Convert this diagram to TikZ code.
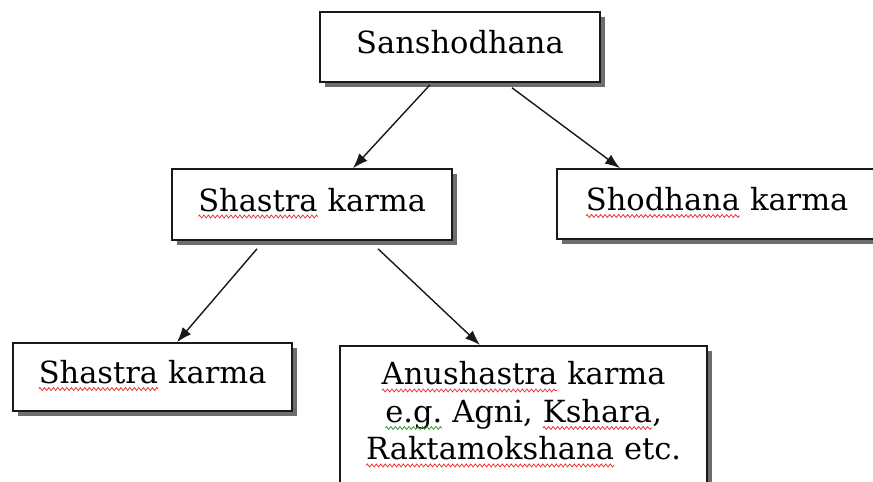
\documentclass[tikz,border=0pt]{standalone}
\usepackage{fontspec}
\setmainfont{DejaVu Serif}
\usetikzlibrary{arrows.meta,positioning,calc,shadows,decorations.pathmorphing}
\definecolor{edge}{RGB}{25,25,25}
\definecolor{shade}{RGB}{110,110,110}
\definecolor{spellred}{RGB}{235,40,40}
\definecolor{spellgreen}{RGB}{40,150,40}
\tikzset{chart/.style={draw=edge,line width=1.6pt,fill=white,drop shadow={shadow xshift=5pt,shadow yshift=-5pt,fill=shade,opacity=1},font=\fontsize{30.5}{37.5}\selectfont,inner sep=0pt},single/.style={chart,text height=21pt,text depth=8pt,minimum height=70pt},flow/.style={-{Latex[length=15pt,width=11pt]},line width=1.4pt,draw=edge},wave/.style={line width=0.7pt,decorate,decoration={zigzag,amplitude=1.5pt,segment length=4.5pt}}}
% wavy spell-check underline under one word
\newcommand{\spell}[2][spellred]{\tikz[baseline=(w.base),x=1pt,y=1pt]{\node[inner sep=0pt,outer sep=0pt,draw=none,fill=none,minimum width=0pt,minimum height=0pt,text height=,text depth=,align=left] (w) {#2};\draw[wave,draw=#1] ([yshift=-5.5pt]w.base west) -- ([yshift=-5.5pt]w.base east);}}

\begin{document}
\begin{tikzpicture}[x=1pt,y=-1pt]
\useasboundingbox (0,0) rectangle (873,482);
\clip (0,0) rectangle (873,482);
\node[single,minimum width=280pt] (root) at (460,47) {Sanshodhana};
\node[single,minimum width=280pt,minimum height=71pt] (surgery) at (312,204.5) {\spell{Shastra} karma};
\node[single,minimum width=320pt] (purify) at (717,204) {\spell{Shodhana} karma};
\node[single,minimum width=279pt,minimum height=68pt] (sharp) at (152.5,377) {\spell{Shastra} karma};
\node[chart,anchor=north,minimum width=367pt,align=center,inner ysep=16pt,text depth=100pt] (para) at (523.5,345) {\spell{Anushastra} karma\\\spell[spellgreen]{e.g.} Agni, \spell{Kshara},\\\spell{Raktamokshana} etc.};
\draw[flow] ([xshift=-30pt,yshift=-2pt]root.south) -- ([xshift=41pt]surgery.north);
\draw[flow] ([xshift=52pt,yshift=-5pt]root.south) -- ([xshift=-97pt]purify.north);
\draw[flow] ([xshift=-55pt,yshift=-8pt]surgery.south) -- ([xshift=24.5pt]sharp.north);
\draw[flow] ([xshift=66pt,yshift=-8pt]surgery.south) -- ([xshift=-43.5pt]para.north);
\end{tikzpicture}
\end{document}
